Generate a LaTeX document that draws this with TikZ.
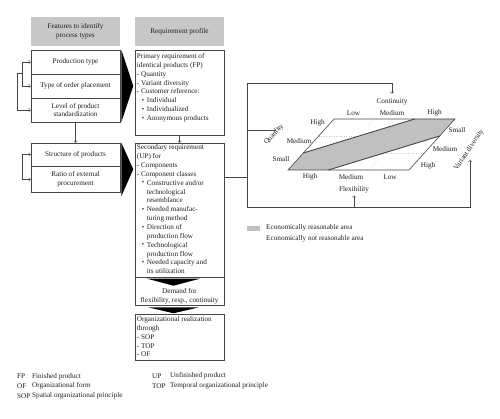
\documentclass[tikz,border=0pt]{standalone}
\usepackage{graphicx}
\usepackage{fontspec}
\setmainfont{Liberation Serif}
\usetikzlibrary{positioning}
\definecolor{boxgray}{RGB}{200,200,200}
\definecolor{areagray}{RGB}{192,192,192}
\definecolor{edgegray}{RGB}{70,70,70}
\definecolor{inkcolor}{RGB}{30,30,30}
\newcommand{\smallfont}{\fontsize{7.2}{8.85}\selectfont}
\newcommand{\bul}{\hspace*{5pt}\makebox[5pt][l]{\raisebox{0.1ex}{\scalebox{0.95}{\textbullet}}}}
\newcommand{\bulind}{\hspace*{10pt}}

\begin{document}
\begin{tikzpicture}[x=1pt, y=-1pt,
    lbl/.style={font=\smallfont, text=inkcolor, inner sep=0pt},
    header/.style={lbl, fill=boxgray, minimum width=89pt, minimum height=29pt, align=center},
    feature/.style={lbl, draw=edgegray, line width=0.6pt, minimum width=89pt, align=center},
    profile/.style={draw=edgegray, line width=0.6pt, minimum width=89pt, inner sep=0pt},
    plist/.style={lbl, align=left, anchor=north west},
    arr/.style={->, edgegray, line width=0.5pt},
    conn/.style={edgegray, line width=0.6pt},
    band/.style={edgegray, line width=0.9pt},
    gridline/.style={dotted, white!78!black, line width=0.5pt},
    bigarrow/.style={fill=black}
    ]
    \useasboundingbox (0,0) rectangle (500,419);

    % Headers
    \node[header] (hfeat) at (75.5,31.5) {Features to identify\\process types};
    \node[header] (hreq) at (179.5,31.5) {Requirement profile};

    % Features
    \node[feature, minimum height=24pt] (prod) at (75.5,62) {Production type};
    \node[feature, minimum height=24pt] (order) at (75.5,86) {Type of order placement};
    \node[feature, minimum height=24pt] (level) at (75.5,110) {Level of product\\standardization};
    \node[feature, minimum height=23pt] (struct) at (75.5,154.5) {Structure of products};
    \node[feature, minimum height=26pt] (ratio) at (75.5,179.5) {Ratio of external\\procurement};

    \draw[arr, <->] (prod.west) -- ++(-8,0) |- (order.west);
    \draw[arr] ([xshift=-8pt]order.north west) -- ++(-5,0) |- (level.west);
    \draw[arr, <->] (struct.west) -- ++(-8,0) |- (ratio.west);
    \draw[arr] (level.south) -- (struct.north);

    \fill[bigarrow] ([xshift=1pt]prod.north east) -- ([xshift=13pt]order.east)
        -- ([xshift=1pt]level.south east) -- cycle;
    \fill[bigarrow] ([xshift=1pt]struct.north east) -- ([xshift=13pt,yshift=-3pt]struct.south east)
        -- ([xshift=1pt,yshift=-3.5pt]ratio.south east) -- cycle;

    % Requirement profile
    \node[profile, minimum height=85pt] (prim) at (179.5,92.5) {};
    \node[profile, minimum height=134pt] (sec) at (179.5,210) {};
    \node[profile, minimum height=28pt] (demand) at (179.5,291) {};
    \node[profile, minimum height=46pt] (org) at (179.5,337) {};

    \node[plist] (primtxt) at ([xshift=2pt,yshift=-3.5pt]prim.north west)
        {Primary requirement of\\identical products (FP)\\- Quantity\\- Variant diversity\\- Customer reference:\\\bul Individual\\\bul Individualized\\\bul Anonymous products};
    \node[plist] (sectxt) at ([xshift=2pt,yshift=-2pt]sec.north west)
        {Secondary requirement\\(UP) for\\- Components\\- Component classes\\\bul Constructive and/or\\\bulind technological\\\bulind resemblance\\\bul Needed manufac-\\\bulind turing method\\\bul Direction of\\\bulind production flow\\\bul Technological\\\bulind production flow\\\bul Needed capacity and\\\bulind its utilization};
    \node[lbl, align=center] (demandtxt) at ([yshift=-5pt]demand.center)
        {Demand for\\flexibility, resp., continuity};
    \node[plist] (orgtxt) at ([xshift=2pt,yshift=-2.7pt]org.north west)
        {Organizational realization\\through\\- SOP\\- TOP\\- OF};

    \draw[arr] (prim.south) -- (sec.north);
    \fill[bigarrow] ([xshift=-32.5pt,yshift=-2pt]demand.north) -- ([xshift=20.5pt,yshift=-2pt]demand.north)
        -- ([xshift=-6pt,yshift=-9pt]demand.north) -- cycle;
    \fill[bigarrow] ([xshift=-31.5pt,yshift=-2pt]demand.south) -- ([xshift=19.5pt,yshift=-2pt]demand.south)
        -- ([xshift=-6pt,yshift=-8pt]demand.south) -- cycle;

    % Parallelogram chart
    \begin{scope}[shift={(288,170)}, x={(121pt,0pt)}, y={(46pt,51pt)}]
        \fill[areagray] (0,0) -- (0.3333,0) -- (1,0.6667) -- (1,1) -- (0.6667,1) -- (0,0.3333) -- cycle;
        \foreach \t in {0.3333,0.6667} {
            \draw[gridline] (\t,0) -- (\t,1);
            \draw[gridline] (0,\t) -- (1,\t);
        }
        \draw[conn] (0,0) -- (1,0) -- (1,1) -- (0,1) -- cycle;
        \draw[band] (0.3333,0) -- (1,0.6667);
        \draw[band] (0,0.3333) -- (0.6667,1);
    \end{scope}

    \foreach \name/\xpos/\ypos/\ftext in {
        fhigh/310/177/High, fmed/351/177/Medium, flow/390/177/Low,
        clow/353.5/113/Low, cmed/392/113/Medium, chigh/434.5/113/High,
        qhigh/317.5/123/High, qmed/299/141/Medium, qsmall/281/159/Small,
        vsmall/457/130/Small, vmed/445/149/Medium, vhigh/428/166/High
    } {
        \node[lbl] (\name) at (\xpos,\ypos) {\ftext};
    }
    \node[lbl] (cont) at (392,102) {Continuity};
    \node[lbl] (flex) at (354,190) {Flexibility};
    \node[lbl, rotate=47] (quant) at (274,134.5) {Quantity};
    \node[lbl, rotate=56] (vardiv) at (469,150) {Variant diversity};

    % Frame connectors
    \coordinate (jn) at (247,177);
    \coordinate (ftop) at (247,83);
    \coordinate (fbot) at (247,207);
    \coordinate (qtip) at (276,130);
    \coordinate (vtip) at (470,160);
    \draw[conn] (sec.east |- jn) -- (jn);
    \draw[conn] (ftop) -- (fbot);
    \draw[arr, shorten >=5pt] (ftop) -| (cont.north);
    \draw[arr] (ftop |- qtip) -- (qtip);
    \draw[arr] (fbot) -| (vtip);
    \draw[arr, shorten >=2pt] (fbot -| flex.south) -- (flex.south);

    % Legend
    \node[fill=areagray, minimum width=13pt, minimum height=5pt, inner sep=0pt] (swatch) at (253.5,228.5) {};
    \node[lbl, anchor=west] (lega) at (266,228) {Economically reasonable area};
    \node[lbl, anchor=west] (legb) at (266,238.5) {Economically not reasonable area};

    % Abbreviations
    \foreach \ab/\ftext [count=\i] in {FP/Finished product, OF/Organizational form, SOP/Spatial organizational principle} {
        \node[lbl, anchor=west] (abl\i) at (17,366.5+9.8*\i) {\ab};
        \node[lbl, anchor=west] (txl\i) at (32,366.5+9.8*\i) {\ftext};
    }
    \foreach \ab/\ftext [count=\i] in {UP/Unfinished product, TOP/Temporal organizational principle} {
        \node[lbl, anchor=west] (abr\i) at (152,365.5+10.3*\i) {\ab};
        \node[lbl, anchor=west] (txr\i) at (170,365.5+10.3*\i) {\ftext};
    }
\end{tikzpicture}
\end{document}
